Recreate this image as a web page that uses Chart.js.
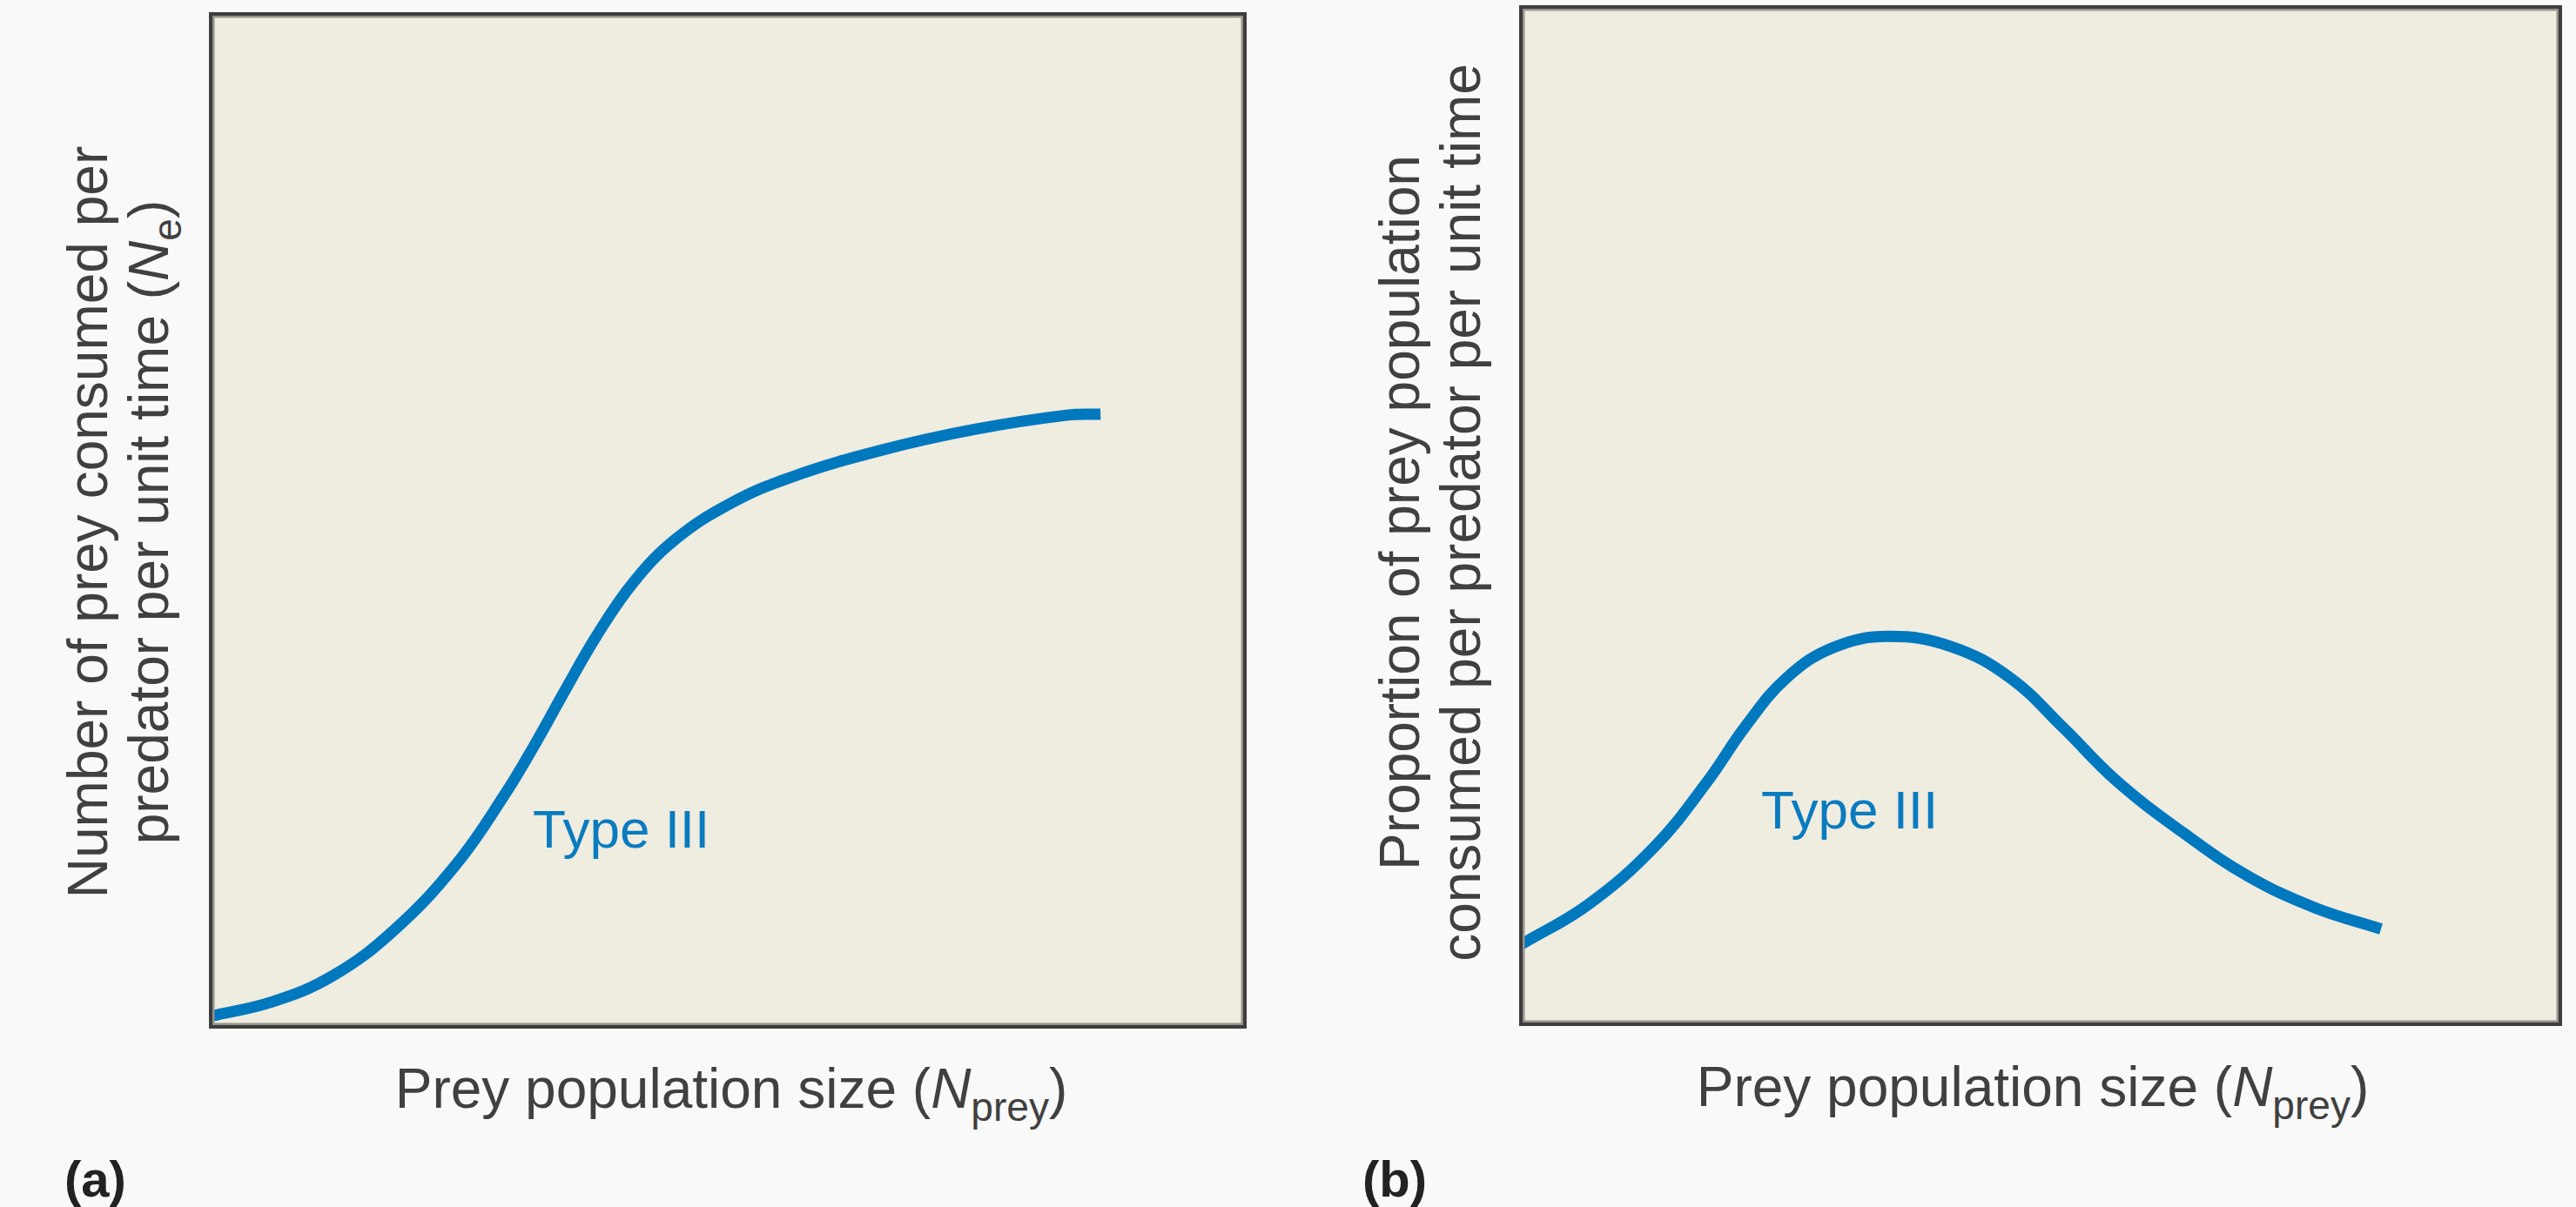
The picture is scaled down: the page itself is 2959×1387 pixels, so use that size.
<!DOCTYPE html>
<html>
<head>
<meta charset="utf-8">
<script src="https://cdn.jsdelivr.net/npm/chart.js@4.4.0/dist/chart.umd.min.js"></script>
<style>
  body { margin: 0; background: #f9f9f9; width: 2959px; height: 1387px; overflow: hidden; position: relative;
         font-family: "Liberation Sans", Arial, sans-serif; color: #404040; }
  canvas { position: absolute; }
  #chartA { left: 230px; top: 4px; }
  #chartB { left: 1735px; top: 0px; }
  .txt { position: absolute; white-space: nowrap; font-size: 64px; line-height: 70px; }
  .ytitle { text-align: center; transform: translate(-50%, -50%) rotate(-90deg); }
  .xtitle { transform: translateX(-50%); }
  .txt sub { font-size: 0.72em; line-height: 0; vertical-align: -0.32em; }
  .type { color: #0a7bbf; font-size: 62px; }
  .panel { font-weight: bold; font-size: 58px; color: #222; }
</style>
</head>
<body>

<canvas id="chartA" width="1212" height="1188"></canvas>
<canvas id="chartB" width="1218" height="1189"></canvas>

<div class="txt ytitle" style="left:136px; top:600px;">Number of prey consumed per<br>predator per unit time (<i>N</i><sub>e</sub>)</div>
<div class="txt ytitle" style="left:1643px; top:589px;">Proportion of prey population<br>consumed per predator per unit time</div>

<div class="txt xtitle" style="left:840px; top:1216px;">Prey population size (<i>N</i><sub>prey</sub>)</div>
<div class="txt xtitle" style="left:2335px; top:1214px;">Prey population size (<i>N</i><sub>prey</sub>)</div>

<div class="txt type" style="left:612px; top:918px;">Type III</div>
<div class="txt type" style="left:2023px; top:896px;">Type III</div>

<div class="txt panel" style="left:74px; top:1320px;">(a)</div>
<div class="txt panel" style="left:1565px; top:1320px;">(b)</div>

<script>
// (a) type III functional response, number eaten
var preyA = [0, 0.59, 1.18, 1.77, 2.37, 2.84, 3.14, 3.43, 3.73, 4.08, 4.49, 5.03, 5.62, 6.51, 7.39, 8.28, 8.61];
var consumedA = [0.1, 0.24, 0.50, 0.95, 1.60, 2.29, 2.80, 3.33, 3.86, 4.38, 4.81, 5.17, 5.43, 5.70, 5.90, 6.04, 6.05];

// (b) proportion eaten
var preyB = [0, 0.64, 1.28, 1.78, 2.16, 2.55, 3.00, 3.53, 4.14, 4.71, 5.22, 5.73, 6.37, 7.00, 7.64, 8.28];
var proportionB = [0.78, 1.17, 1.74, 2.37, 2.93, 3.40, 3.70, 3.81, 3.71, 3.40, 2.91, 2.39, 1.88, 1.45, 1.14, 0.93];

var curveColor = '#0078be';

// plot box: cream fill + dark frame
var boxPlugin = {
  id: 'box',
  beforeDatasetsDraw: function(chart) {
    var a = chart.chartArea, ctx = chart.ctx;
    ctx.save();
    ctx.fillStyle = '#efece0';
    ctx.fillRect(a.left, a.top, a.right - a.left, a.bottom - a.top);
    ctx.restore();
  },
  afterDraw: function(chart) {
    var a = chart.chartArea, ctx = chart.ctx;
    ctx.save();
    ctx.strokeStyle = '#95938b';
    ctx.lineWidth = 3;
    ctx.strokeRect(a.left + 2, a.top + 2, a.right - a.left - 4, a.bottom - a.top - 4);
    ctx.strokeStyle = '#3e3c3c';
    ctx.lineWidth = 4;
    ctx.strokeRect(a.left - 1, a.top - 1, a.right - a.left + 2, a.bottom - a.top + 2);
    ctx.restore();
  }
};

function toPoints(xs, ys) {
  return xs.map(function(x, i) { return { x: x, y: ys[i] }; });
}

function makeChart(id, xs, ys, pad) {
  return new Chart(document.getElementById(id), {
    type: 'scatter',
    data: {
      datasets: [{
        data: toPoints(xs, ys),
        showLine: true,
        borderColor: curveColor,
        borderWidth: 13,
        pointRadius: 0,
        tension: 0.4,
        fill: false
      }]
    },
    options: {
      responsive: false,
      animation: false,
      layout: { padding: pad },
      plugins: { legend: { display: false }, tooltip: { enabled: false } },
      scales: {
        x: { type: 'linear', min: 0, max: 10, display: false },
        y: { type: 'linear', min: 0, max: 10, display: false }
      }
    },
    plugins: [boxPlugin]
  });
}

makeChart('chartA', preyA, consumedA, { left: 13, top: 13, right: 13, bottom: 13 });
makeChart('chartB', preyB, proportionB, { left: 13, top: 9, right: 13, bottom: 13 });
</script>
</body>
</html>
